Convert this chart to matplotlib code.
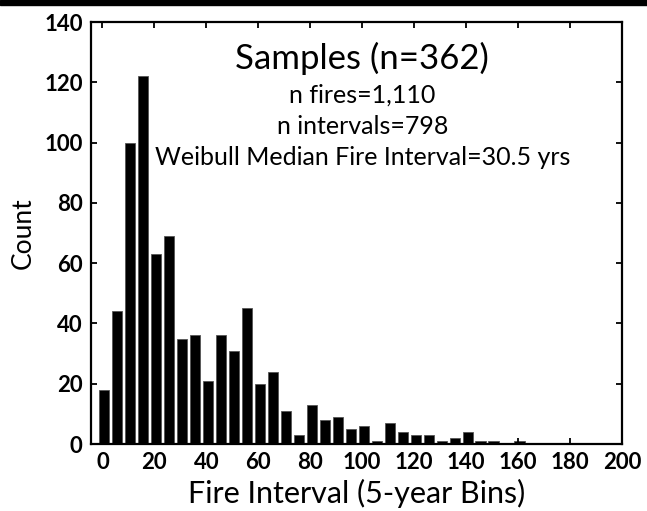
import numpy as np
import matplotlib.pyplot as plt
from matplotlib.patches import Rectangle

plt.rcParams['font.family'] = ['Lato', 'DejaVu Sans']

# fire-interval histogram, 5-year bins
bin_start = np.arange(0, 165, 5)
counts = [18, 44, 100, 122, 63, 69, 35, 36, 21, 36, 31, 45, 20, 24, 11, 3,
          13, 8, 9, 5, 6, 1, 7, 4, 3, 3, 1, 2, 4, 1, 1, 0, 1]

title = 'Samples (n=362)'
notes = ['n fires=1,110', 'n intervals=798',
         'Weibull Median Fire Interval=30.5 yrs']

fig = plt.figure(figsize=(6.47, 5.11), dpi=100)
ax = fig.add_axes([0.1406, 0.1311, 0.8208, 0.8258])

ax.bar(bin_start + 0.6, counts, width=4.0, color='black',
       edgecolor='#555555', linewidth=0.6)

ax.set_xlim(-4.4, 200)
ax.set_ylim(0, 140)
ax.set_xticks(np.arange(0, 201, 20))
ax.set_yticks(np.arange(0, 141, 20))
ax.tick_params(direction='in', length=4, width=1.3, top=True, right=True,
               labelsize=16, pad=6)
for lab in ax.get_xticklabels() + ax.get_yticklabels():
    lab.set_fontweight('bold')
for sp in ax.spines.values():
    sp.set_linewidth(1.6)

ax.set_xlabel('Fire Interval (5-year Bins)', fontsize=22, labelpad=4)
ax.set_ylabel('Count', fontsize=19, labelpad=6)

ax.text(100, 128, title, ha='center', va='center', fontsize=25)
for y, s in zip([115.8, 105.2, 94.9], notes):
    ax.text(100, y, s, ha='center', va='center', fontsize=18)

# dark strip along the top edge
fig.patches.append(Rectangle((0, 1 - 5 / 511), 1, 5 / 511,
                             transform=fig.transFigure, color='black',
                             zorder=10))

fig.savefig('out.png', dpi=100)
